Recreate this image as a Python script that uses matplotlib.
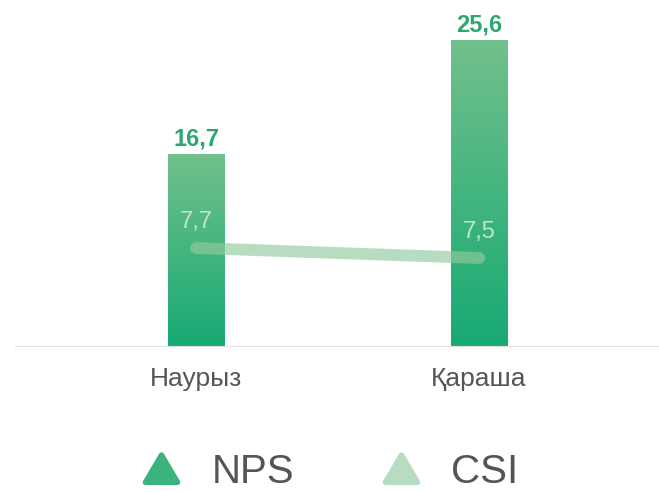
import numpy as np
import matplotlib
matplotlib.use('Agg')
import matplotlib.pyplot as plt
from matplotlib.lines import Line2D
from matplotlib.markers import MarkerStyle
from matplotlib.path import Path
from matplotlib.colors import LinearSegmentedColormap

plt.rcParams['font.family'] = ['Liberation Sans', 'DejaVu Sans']

months = ['Наурыз', 'Қараша']
nps = [16.7, 25.6]
csi = [7.7, 7.5]
labels = ['NPS', 'CSI']

nps_top = '#72c08b'
nps_bottom = '#17aa74'
csi_color = '#93ca9d'

fig = plt.figure(figsize=(6.59, 4.92), dpi=100)
ax = fig.add_axes([15 / 659, 146 / 492, 644 / 659, 326 / 492])
ax2 = ax.twinx()

x = np.arange(len(months))
bars = ax.bar(x, nps, width=0.2, color='none', zorder=2)

# gradient fill for each bar
cmap = LinearSegmentedColormap.from_list('g', [nps_bottom, nps_top])
grad = np.linspace(0, 1, 256).reshape(-1, 1)
for b in bars:
    x0 = b.get_x()
    im = ax.imshow(grad, cmap=cmap, aspect='auto', origin='lower',
                   extent=[x0, x0 + b.get_width(), 1.71, b.get_height()], zorder=2)
    im.set_clip_path(b)

for xi, v in zip(x, nps):
    ax.text(xi, v + 0.3, f'{v}'.replace('.', ','), ha='center', va='bottom',
            fontsize=17, color='#2aa86e', fontweight='bold', clip_on=False)

ax.set_xlim(-0.64, 1.636)
ax.set_ylim(1.71, 27.16)

ax2.plot(x, csi, color=csi_color, lw=8.5, alpha=0.65, solid_capstyle='round', zorder=3)
for xi, v in zip(x, csi):
    ax2.text(xi, v + 0.3, f'{v}'.replace('.', ','), ha='center', va='bottom',
             fontsize=17, color='#c5e4cc')
ax2.set_ylim(5.74, 12.26)

for a in (ax, ax2):
    for s in ['top', 'right', 'left']:
        a.spines[s].set_visible(False)
    a.spines['bottom'].set_color('#e2e2e2')
    a.set_yticks([])
ax2.spines['bottom'].set_visible(False)

ax.set_xticks(x)
ax.set_xticklabels(months, fontsize=19, color='#555555')
ax.tick_params(axis='x', length=0, pad=15)

tri_path = Path([(-1, -0.8), (1, -0.8), (0, 0.9), (-1, -0.8)], closed=True)
tri = MarkerStyle(tri_path, joinstyle='round')
handles = [
    Line2D([], [], marker=tri, ls='none', color='#3cb37c', markersize=23,
           markeredgewidth=4, markeredgecolor='#3cb37c'),
    Line2D([], [], marker=tri, ls='none', color='#b8dcbf', markersize=23,
           markeredgewidth=4, markeredgecolor='#b8dcbf'),
]
fig.legend(handles, labels, loc='center', bbox_to_anchor=(0.5, 0.041), ncol=2,
           frameon=False, fontsize=29, labelcolor='#555555', handlelength=1.0,
           handletextpad=0.74, columnspacing=2.15)

fig.savefig('out.png', dpi=100)
